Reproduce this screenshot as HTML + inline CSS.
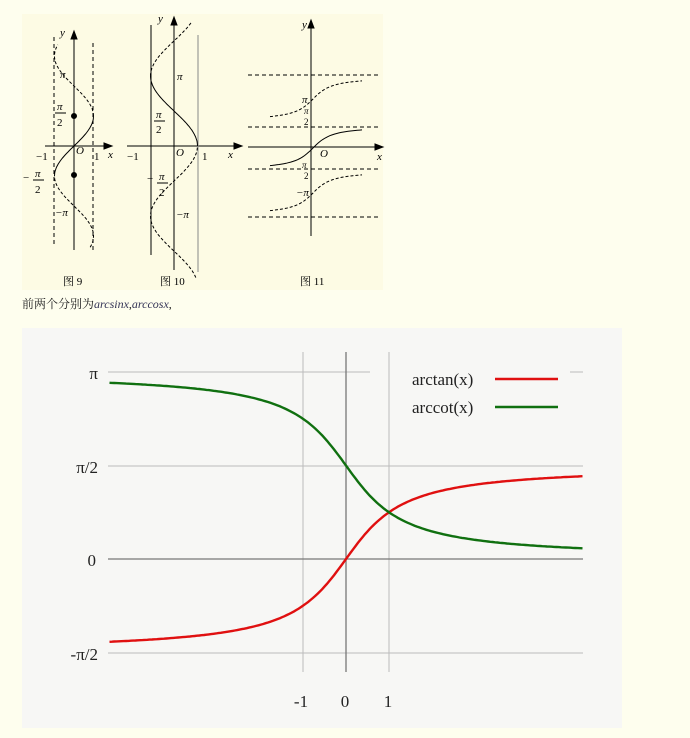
<!DOCTYPE html>
<html><head><meta charset="utf-8"><style>
html,body{margin:0;padding:0;background:#fefeee;width:690px;height:738px;overflow:hidden}
svg{position:absolute;left:0;top:0}
text{font-family:"Liberation Serif","Noto Serif CJK SC",serif}
</style></head><body>
<svg width="690" height="738" viewBox="0 0 690 738" xmlns="http://www.w3.org/2000/svg">
<rect x="22" y="14" width="361" height="276" fill="#fdfbe4"/>
<g id="top" fill="none" stroke="#000" stroke-width="1"></g>
<g font-size="11" font-style="italic" fill="#000">
<text x="60" y="36">y</text><text x="108" y="158">x</text><text x="60" y="78">π</text>
<text x="57" y="110">π</text><line x1="55" y1="113" x2="66" y2="113" stroke="#000"/><text x="57" y="126" font-style="normal">2</text>
<text x="23" y="181" font-style="normal">−</text><text x="35" y="177">π</text><line x1="33" y1="180" x2="44" y2="180" stroke="#000"/><text x="35" y="193" font-style="normal">2</text>
<text x="55" y="216">−π</text><text x="76" y="154">O</text>
<text x="36" y="160" font-style="normal">−1</text><text x="94" y="160" font-style="normal">1</text>
<text x="158" y="22">y</text><text x="228" y="158">x</text><text x="177" y="80">π</text>
<text x="156" y="118">π</text><line x1="154" y1="121" x2="165" y2="121" stroke="#000"/><text x="156" y="133" font-style="normal">2</text>
<text x="147" y="182" font-style="normal">−</text><text x="159" y="180">π</text><line x1="157" y1="183" x2="168" y2="183" stroke="#000"/><text x="159" y="196" font-style="normal">2</text>
<text x="176" y="218">−π</text><text x="176" y="156">O</text>
<text x="127" y="160" font-style="normal">−1</text><text x="202" y="160" font-style="normal">1</text>
<text x="302" y="28">y</text><text x="377" y="160">x</text><text x="320" y="157">O</text>
<text x="302" y="103">π</text><text x="304" y="114" font-size="9">π</text><text x="304" y="125" font-size="9" font-style="normal">2</text>
<text x="302" y="168" font-size="9">π</text><text x="304" y="179" font-size="9" font-style="normal">2</text>
<text x="296" y="196">−π</text>
</g>
<g font-size="11" fill="#000">
<text x="63" y="285" font-family="Liberation Sans,'Noto Sans CJK SC',sans-serif">图 9</text>
<text x="160" y="285" font-family="Liberation Sans,'Noto Sans CJK SC',sans-serif">图 10</text>
<text x="300" y="285" font-family="Liberation Sans,'Noto Sans CJK SC',sans-serif">图 11</text>
</g>
<text x="22" y="308" font-size="12" fill="#222" font-family="Liberation Sans,'Noto Sans CJK SC',sans-serif">前两个分别为<tspan font-family="Liberation Serif,serif" font-style="italic" fill="#335">arcsinx</tspan>,<tspan font-family="Liberation Serif,serif" font-style="italic" fill="#335">arccosx</tspan>,</text>

<rect x="22" y="328" width="600" height="400" fill="#f7f7f5"/>
<g stroke="#bbb" stroke-width="1">
<line x1="108" y1="372" x2="370" y2="372"/><line x1="570" y1="372" x2="583" y2="372"/>
<line x1="108" y1="466" x2="583" y2="466"/><line x1="108" y1="653" x2="583" y2="653"/>
<line x1="303" y1="352" x2="303" y2="672"/><line x1="389" y1="352" x2="389" y2="672"/>
</g>
<g stroke="#777" stroke-width="1.3"><line x1="108" y1="559" x2="583" y2="559"/><line x1="346" y1="352" x2="346" y2="672"/></g>
<path id="red" fill="none" stroke="#e01010" stroke-width="2.4"/>
<path id="grn" fill="none" stroke="#107010" stroke-width="2.4"/>
<line x1="495" y1="379" x2="558" y2="379" stroke="#e01010" stroke-width="2.4"/>
<line x1="495" y1="407" x2="558" y2="407" stroke="#107010" stroke-width="2.4"/>
<g font-size="17" fill="#222">
<text x="412" y="385">arctan(x)</text><text x="412" y="413">arccot(x)</text>
<text x="98" y="379" text-anchor="end">π</text><text x="98" y="473" text-anchor="end">π/2</text>
<text x="96" y="566" text-anchor="end">0</text><text x="98" y="660" text-anchor="end">-π/2</text>
<text x="301" y="707" text-anchor="middle">-1</text><text x="345" y="707" text-anchor="middle">0</text><text x="388" y="707" text-anchor="middle">1</text>
</g>
</svg>
<script>
var r='',g='';
for(var i=0;i<=200;i++){var x=-5.5+11*i/200,X=346+43*x;var a=Math.atan(x);
r+=(i?'L':'M')+X.toFixed(1)+' '+(559-59.5*a).toFixed(1);
g+=(i?'L':'M')+X.toFixed(1)+' '+(559-59.5*(Math.PI/2-a)).toFixed(1);}
document.getElementById('red').setAttribute('d',r);
document.getElementById('grn').setAttribute('d',g);
var T=document.getElementById('top'),h='';
function L(x1,y1,x2,y2,d,c){h+='<line x1="'+x1+'" y1="'+y1+'" x2="'+x2+'" y2="'+y2+'"'+(d?' stroke-dasharray="4,3"':'')+(c?' stroke="'+c+'"':'')+'/>';}
function P(pts,d){h+='<path d="'+pts+'"'+(d?' stroke-dasharray="3,2"':'')+'/>';}
function Ar(x,y,dir){h+=dir=='u'?'<path d="M'+(x-3)+' '+(y+8)+'L'+x+' '+y+'L'+(x+3)+' '+(y+8)+'Z" fill="#000"/>':'<path d="M'+(y-8)+' '+(x-3)+'L'+y+' '+x+'L'+(y-8)+' '+(x+3)+'Z" fill="#000"/>';}
L(74,36,74,250);Ar(74,31,'u');L(45,146,110,146);Ar(146,112,'r');
L(54,37,54,247,1);L(93,43,93,250,1);
function curve9(t0,t1){var s='';for(var i=0;i<=40;i++){var t=t0+(t1-t0)*i/40;s+=(i?'L':'M')+(74+19.5*Math.sin(t)).toFixed(1)+' '+(146-19.1*t).toFixed(1);}return s;}
P(curve9(-1.5708,1.5708));P(curve9(1.5708,5.3),1);P(curve9(-5.3,-1.5708),1);
h+='<circle cx="74" cy="116" r="2.5" fill="#000"/><circle cx="74" cy="175" r="2.5" fill="#000"/>';
L(174,22,174,270);Ar(174,17,'u');L(127,146,238,146);Ar(146,242,'r');
L(151,25,151,255);L(198,35,198,272,0,'#888');
function curve10(t0,t1){var s='';for(var i=0;i<=40;i++){var t=t0+(t1-t0)*i/40;s+=(i?'L':'M')+(174+23.5*Math.cos(t)).toFixed(1)+' '+(146-22.3*t).toFixed(1);}return s;}
P(curve10(0,3.1416));P(curve10(3.1416,5.56),1);P(curve10(-5.9,0),1);
L(311,26,311,236);Ar(311,20,'u');L(248,147,378,147);Ar(147,383,'r');
L(248,75,380,75,1);L(248,127,380,127,1);L(248,169,380,169,1);L(248,217,378,217,1);
function curve11(yc){var s='';for(var i=0;i<=40;i++){var x=270+92*i/40;var u=(x-313)/14;s+=(i?'L':'M')+x.toFixed(1)+' '+(yc-14*Math.atan(u)).toFixed(1);}return s;}
P(curve11(148));P(curve11(99),1);P(curve11(193),1);
T.innerHTML=h;
</script>
</body></html>
